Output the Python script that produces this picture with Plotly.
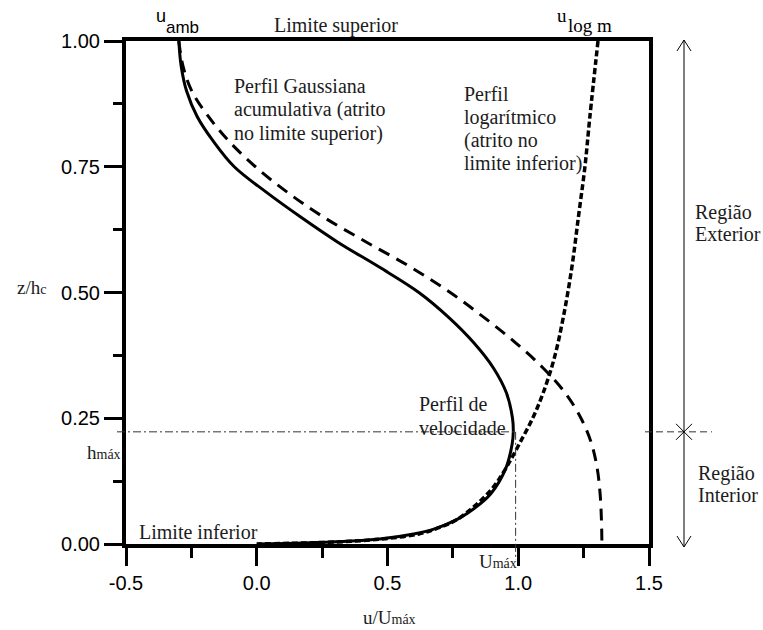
import plotly.graph_objects as go

# ---- data: u/Umax against z/hc ----
# velocity profile (solid)
vel_z = [1.000, 0.950, 0.900, 0.850, 0.800, 0.750, 0.700, 0.650, 0.600, 0.550,
         0.500, 0.450, 0.400, 0.350, 0.300, 0.250, 0.223, 0.200, 0.150, 0.100,
         0.070, 0.050, 0.030, 0.020, 0.010, 0.005, 0.002, 0.000]
vel_u = [-0.298, -0.289, -0.268, -0.228, -0.165, -0.086, 0.035, 0.168, 0.310,
         0.470, 0.620, 0.735, 0.830, 0.905, 0.955, 0.978, 0.981, 0.977, 0.952,
         0.895, 0.830, 0.770, 0.680, 0.600, 0.470, 0.330, 0.180, 0.000]

# cumulative Gaussian profile (dashed)
gauss_z = [1.000, 0.950, 0.900, 0.850, 0.800, 0.750, 0.700, 0.650, 0.600,
           0.550, 0.500, 0.450, 0.400, 0.350, 0.300, 0.250, 0.200, 0.150,
           0.100, 0.050, 0.000]
gauss_u = [-0.298, -0.282, -0.248, -0.185, -0.105, -0.005, 0.115, 0.255, 0.420,
           0.590, 0.740, 0.870, 0.990, 1.095, 1.180, 1.240, 1.280, 1.302,
           1.313, 1.318, 1.320]

# logarithmic profile (short dashes)
log_z = [1.000, 0.850, 0.750, 0.650, 0.550, 0.450, 0.370, 0.300, 0.250, 0.200,
         0.150, 0.110, 0.075, 0.050, 0.035, 0.020, 0.010, 0.004, 0.000]
log_u = [1.305, 1.274, 1.255, 1.230, 1.205, 1.172, 1.138, 1.095, 1.055, 1.005,
         0.952, 0.900, 0.832, 0.770, 0.710, 0.620, 0.480, 0.300, 0.000]

h_max = 0.223      # height of the velocity maximum (z/hc)
u_max = 0.99       # u/Umax at the maximum

x_ticks = [-0.5, 0.0, 0.5, 1.0, 1.5]
x_tick_text = ["-0.5", "0.0", "0.5", "1.0", "1.5"]
y_ticks = [0.0, 0.25, 0.5, 0.75, 1.0]
y_tick_text = ["0.00", "0.25", "0.50", "0.75", "1.00"]

# ---- layout geometry (pixels) ----
W, H = 763, 630
L, R, T, B = 126, 114, 41, 86
PW, PH = W - L - R, H - T - B
X0, X1 = -0.5, 1.5


def px(xp):
    return (xp - L) / PW


def py(yp):
    return (H - B - yp) / PH


def dx(u):
    return (u - X0) / (X1 - X0)


SERIF = "Liberation Serif, Times New Roman, serif"
SANS = "Liberation Sans, Arial, sans-serif"
INK = "#1c1c1c"

fig = go.Figure()
fig.add_trace(go.Scatter(x=gauss_u, y=gauss_z, mode="lines",
                         line=dict(color="black", width=3, dash="12px,8px",
                                   shape="spline", smoothing=1.0),
                         showlegend=False, hoverinfo="skip"))
fig.add_trace(go.Scatter(x=log_u, y=log_z, mode="lines",
                         line=dict(color="black", width=3.5, dash="6px,3px",
                                   shape="spline", smoothing=1.0),
                         showlegend=False, hoverinfo="skip"))
fig.add_trace(go.Scatter(x=vel_u, y=vel_z, mode="lines",
                         line=dict(color="black", width=3,
                                   shape="spline", smoothing=1.0),
                         showlegend=False, hoverinfo="skip"))

shapes = []
# reference lines for the maximum
shapes.append(dict(type="line", xref="paper", yref="paper",
                   x0=px(117), x1=dx(u_max), y0=h_max, y1=h_max,
                   line=dict(color="#333", width=1, dash="8px,3px,2px,3px")))
shapes.append(dict(type="line", xref="paper", yref="paper",
                   x0=dx(u_max), x1=dx(u_max), y0=h_max, y1=py(560),
                   line=dict(color="#333", width=1, dash="8px,3px,2px,3px")))
shapes.append(dict(type="line", xref="paper", yref="paper",
                   x0=px(645), x1=px(712), y0=h_max, y1=h_max,
                   line=dict(color="#333", width=1, dash="7px,4px")))
# region bracket on the right
ax_x = 684
shapes.append(dict(type="line", xref="paper", yref="paper",
                   x0=px(ax_x), x1=px(ax_x), y0=py(40), y1=py(547),
                   line=dict(color="black", width=1)))


def vpath(points):
    s = ""
    for i, (a, b) in enumerate(points):
        s += ("M" if i == 0 else "L") + f"{px(a):.5f},{py(b):.5f} "
    return s


yx = (H - B) - h_max * PH
for pts in ([(ax_x - 7, 51), (ax_x, 40), (ax_x + 7, 51)],
            [(ax_x - 7, 536), (ax_x, 547), (ax_x + 7, 536)],
            [(ax_x - 8, yx - 8), (ax_x + 8, yx + 8)],
            [(ax_x + 8, yx - 8), (ax_x - 8, yx + 8)]):
    shapes.append(dict(type="path", xref="paper", yref="paper",
                       path=vpath(pts), line=dict(color="black", width=1)))

ann = []


def text(s, x, y, size=20, font=SERIF, xanchor="left", color=INK):
    ann.append(dict(text=s, x=px(x), y=py(y), xref="paper", yref="paper",
                    xanchor=xanchor, yanchor="middle", showarrow=False,
                    font=dict(family=font, size=size, color=color)))


for i, line in enumerate(["Perfil Gaussiana", "acumulativa (atrito",
                          "no limite superior)"]):
    text(line, 232, 86 + 23.5 * i)
for i, line in enumerate(["Perfil", "logarítmico", "(atrito no",
                          "limite inferior)"]):
    text(line, 462, 94 + 23.3 * i)
text("Perfil de", 417, 404)
text("velocidade", 417, 428)
text("Limite inferior", 137, 532)
text("Limite superior", 336, 25, xanchor="center")
text("Região", 693, 212)
text("Exterior", 693, 234)
text("Região", 696, 473)
text("Interior", 696, 495)
text("z/h<span style='font-size:14px'>c</span>", 15, 287, size=19)
text("h<span style='font-size:14px'>máx</span>", 85, 452, size=19)
text("U<span style='font-size:14px'>máx</span>", 477, 561, size=19)
text("u/U<span style='font-size:14px'>máx</span>", 389, 617, size=19,
     xanchor="center")
text("u", 161, 16, size=18, font=SANS, xanchor="center", color="black")
text("amb", 182, 27, size=17, font=SANS, xanchor="center", color="black")
text("u", 562, 16, size=19, xanchor="center", color="black")
text("log m", 590, 25, size=19, xanchor="center", color="black")

fig.update_layout(
    width=W, height=H,
    margin=dict(l=L, r=R, t=T, b=B),
    paper_bgcolor="white", plot_bgcolor="white",
    shapes=shapes, annotations=ann,
    xaxis=dict(range=[X0, X1], tickvals=x_ticks, ticktext=x_tick_text,
               showgrid=False, zeroline=False, showline=True, mirror=True,
               linecolor="black", linewidth=4,
               ticks="outside", ticklen=18, tickwidth=3, tickcolor="black",
               minor=dict(dtick=0.25, tick0=-0.5, ticks="outside", ticklen=10,
                          tickwidth=3, tickcolor="black", showgrid=False),
               tickfont=dict(family=SANS, size=20, color="black")),
    yaxis=dict(range=[0, 1], tickvals=y_ticks, ticktext=y_tick_text,
               showgrid=False, zeroline=False, showline=True, mirror=True,
               linecolor="black", linewidth=4,
               ticks="outside", ticklen=18, tickwidth=3, tickcolor="black",
               minor=dict(dtick=0.125, tick0=0, ticks="outside", ticklen=9,
                          tickwidth=3, tickcolor="black", showgrid=False),
               tickfont=dict(family=SANS, size=20, color="black")),
)

fig.write_html("out.html")
